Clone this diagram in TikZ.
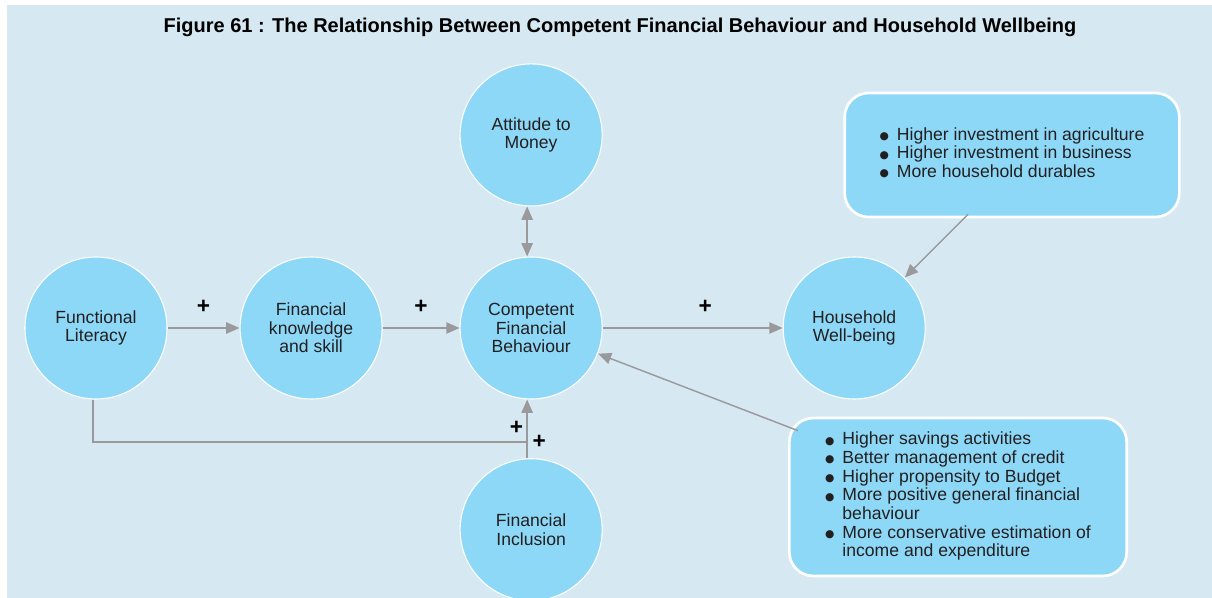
\documentclass[tikz,border=0pt]{standalone}
\usepackage{fontspec}
\setmainfont{Liberation Sans}
\newfontfamily\dejavu{DejaVu Sans}
\usetikzlibrary{positioning,arrows.meta}
\definecolor{fondo}{HTML}{D6E9F3}
\definecolor{celeste}{HTML}{8DD8F7}
\definecolor{gris}{HTML}{9A9A9C}
\definecolor{tinta}{HTML}{231F20}
\newcommand\punto{{\dejavu\fontsize{8}{8}\selectfont\raisebox{0.5pt}{●}}}

\begin{document}
\begin{tikzpicture}[x=0.75pt, y=-0.75pt, font=\fontsize{13.2}{14}\selectfont,
      >={Triangle[length=10pt, width=8.5pt]},
      c/.style={circle, draw=white, line width=0.8pt, fill=celeste, minimum size=106.5pt,
                inner sep=0pt, align=center, text=tinta},
      caja/.style={draw=white, line width=2pt, fill=celeste, rounded corners=18pt,
                   minimum width=251pt, minimum height=93pt, align=left, text=tinta},
      flecha/.style={->, gris, line width=1.1pt},
      signo/.style={font=\fontsize{17}{17}\selectfont\bfseries, text=black, inner sep=0pt}]
    \useasboundingbox (0,0) rectangle (1212,598);
    \fill[fondo] (7,5) rectangle (1212,598);
    \node[font=\fontsize{15}{17}\selectfont\bfseries] (titulo) at (620,27)
        {Figure 61 : The Relationship Between Competent Financial Behaviour and Household Wellbeing};
    % circles
    \node[c] (fl) at (96,328) {Functional\\Literacy};
    \node[c, right=54pt of fl] (fk) {Financial\\knowledge\\and skill};
    \node[c, right=57.75pt of fk] (cfb) {Competent\\Financial\\Behaviour};
    \node[c, right=135pt of cfb] (hw) {Household\\Well-being};
    \node[c, above=37.5pt of cfb] (am) {Attitude to\\Money};
    \node[c, below=44pt of cfb] (fi) {Financial\\Inclusion};
    % boxes
    \node[caja] (inv) at (1012,155) {\begin{tabular}{@{}l@{\hspace{6pt}}l@{}}
        \punto & Higher investment in agriculture\\
        \punto & Higher investment in business\\
        \punto & More household durables\end{tabular}};
    \node[caja, minimum width=253pt, minimum height=118.5pt] (hab) at (958,497) {\begin{tabular}{@{}l@{\hspace{6pt}}l@{}}
        \punto & Higher savings activities\\
        \punto & Better management of credit\\
        \punto & Higher propensity to Budget\\
        \punto & More positive general financial\\
               & behaviour\\
        \punto & More conservative estimation of\\
               & income and expenditure\end{tabular}};
    % connectors
    \draw[flecha] (fl) -- node[signo, yshift=16pt] (m1) {+} (fk);
    \draw[flecha] (fk) -- node[signo, yshift=16pt] (m2) {+} (cfb);
    \draw[flecha] (cfb) -- node[signo, pos=0.57, yshift=16pt] (m3) {+} (hw);
    \draw[flecha, <->] ([xshift=-3pt]am.south) -- ([xshift=-3pt]cfb.north);
    \draw[flecha] ([xshift=-3pt]fi.north) -- ([xshift=-3pt]cfb.south);
    \coordinate (cruce) at ([xshift=-3pt, yshift=12pt]fi.north);
    \draw[gris, line width=1.1pt] ([xshift=-2.25pt]fl.south) |-
        node[signo, pos=1, xshift=-8pt, yshift=10.5pt] (m4) {+} (cruce);
    \node[signo, right=4pt of cruce] (m5) {+};
    \draw[flecha] ([xshift=7.5pt, yshift=-10.5pt]hab.north west) -- (cfb);
    \draw[flecha] ([xshift=-33pt, yshift=3pt]inv.south) -- (hw);
  \end{tikzpicture}
\end{document}
